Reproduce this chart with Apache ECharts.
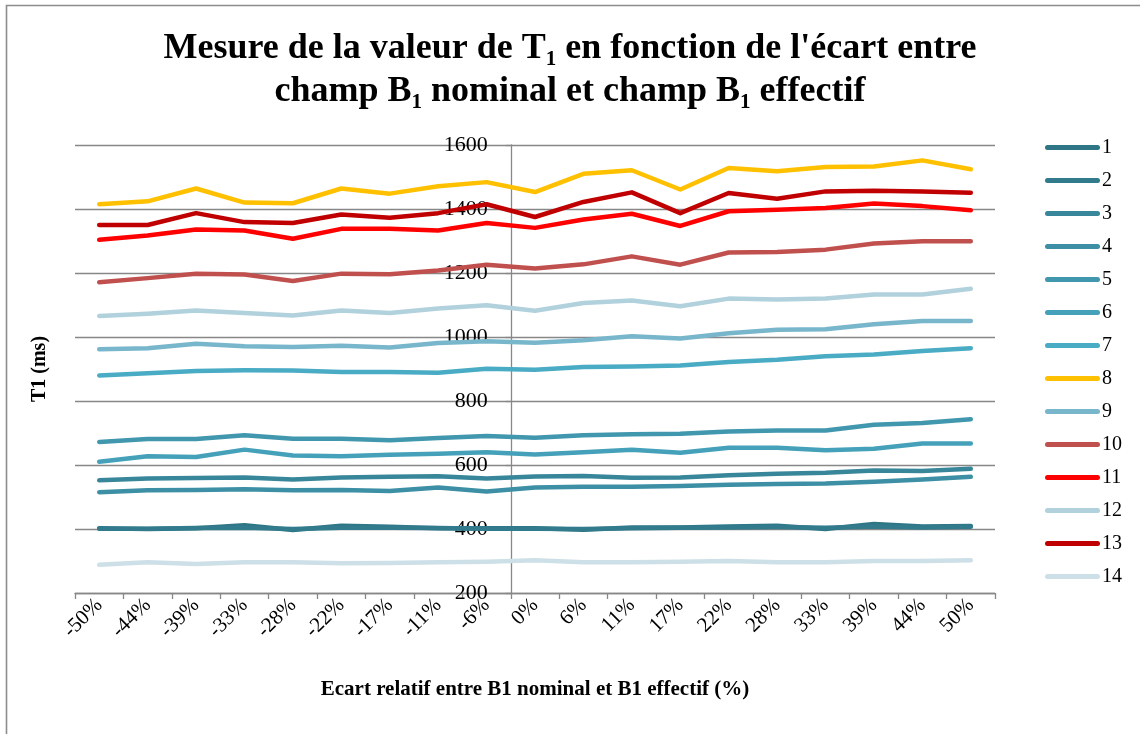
<!DOCTYPE html>
<html>
<head>
<meta charset="utf-8">
<script src="https://cdn.jsdelivr.net/npm/echarts@6/dist/echarts.min.js"></script>
<style>
  html, body { margin: 0; padding: 0; background: #fff; }
  #chart { width: 1140px; height: 734px; }
</style>
</head>
<body>
<div id="chart"></div>
<script>
// Relative deviation between nominal and effective B1 field (%)
const categories = ['-50%', '-44%', '-39%', '-33%', '-28%', '-22%', '-17%', '-11%', '-6%', '0%',
  '6%', '11%', '17%', '22%', '28%', '33%', '39%', '44%', '50%'];

// Measured T1 (ms) for each of the 14 samples
const t1_1  = [402, 400, 402, 412, 397, 410, 407, 402, 402, 402, 398, 405, 405, 408, 410, 400, 416, 408, 409];
const t1_2  = [401, 401, 403, 404, 400, 404, 404, 403, 401, 401, 400, 402, 404, 405, 406, 404, 408, 405, 407];
const t1_3  = [552, 558, 559, 561, 555, 561, 563, 565, 558, 564, 566, 560, 561, 568, 573, 576, 583, 581, 588];
const t1_4  = [515, 521, 522, 524, 521, 522, 519, 530, 517, 530, 532, 532, 534, 538, 541, 542, 548, 555, 563];
const t1_5  = [672, 681, 681, 693, 682, 682, 677, 684, 691, 685, 693, 696, 698, 705, 708, 708, 726, 731, 743];
const t1_6  = [610, 627, 625, 648, 630, 627, 632, 635, 640, 633, 640, 648, 638, 654, 654, 646, 651, 667, 667];
const t1_7  = [880, 887, 894, 896, 895, 891, 891, 888, 901, 898, 906, 908, 911, 922, 929, 940, 945, 956, 965];
const t1_8  = [1415, 1424, 1464, 1420, 1418, 1464, 1448, 1471, 1484, 1453, 1510, 1521, 1461, 1528, 1518, 1531, 1533, 1552, 1524];
const t1_9  = [962, 965, 979, 971, 969, 973, 967, 981, 987, 982, 990, 1002, 995, 1012, 1023, 1024, 1040, 1050, 1050];
const t1_10 = [1171, 1184, 1198, 1195, 1175, 1198, 1196, 1208, 1226, 1214, 1227, 1252, 1226, 1264, 1266, 1273, 1292, 1299, 1299];
const t1_11 = [1304, 1317, 1336, 1333, 1307, 1338, 1338, 1333, 1356, 1341, 1367, 1385, 1347, 1393, 1398, 1403, 1417, 1409, 1396];
const t1_12 = [1066, 1073, 1083, 1075, 1067, 1083, 1075, 1089, 1099, 1082, 1106, 1114, 1096, 1120, 1117, 1120, 1133, 1133, 1151];
const t1_13 = [1350, 1350, 1387, 1359, 1356, 1383, 1373, 1387, 1415, 1375, 1422, 1452, 1387, 1450, 1432, 1455, 1457, 1455, 1451];
const t1_14 = [288, 296, 291, 296, 296, 293, 294, 296, 298, 302, 296, 296, 298, 300, 296, 296, 300, 300, 302];

const seriesNames = ['1', '2', '3', '4', '5', '6', '7', '8', '9', '10', '11', '12', '13', '14'];
const seriesData = [t1_1, t1_2, t1_3, t1_4, t1_5, t1_6, t1_7, t1_8, t1_9, t1_10, t1_11, t1_12, t1_13, t1_14];
const seriesColors = ['#2E7586', '#327B8D', '#38869A', '#3C8FA4', '#4097AE', '#44A1B9', '#4AABC5',
  '#FFC000', '#78B6CC', '#C0504D', '#FF0000', '#B1D1DD', '#C00000', '#CDE0E7'];

const yTicks = { min: 200, max: 1600, interval: 200 };

const FONT = 'Liberation Serif';
const GRID = { left: 75, top: 145, width: 920, height: 448 };
// The vertical axis crosses the category axis at the start of the "0%" category
const crossIndex = categories.indexOf('0%');
const yAxisOffset = -GRID.width * crossIndex / categories.length;
const axisGray = '#878787';

// Capsule-shaped legend key (55 x 5 with rounded ends)
const legendKey = 'path://M2.5,0H52.5A2.5,2.5,0,0,1,52.5,5H2.5A2.5,2.5,0,0,1,2.5,0Z';

const chart = echarts.init(document.getElementById('chart'), null, { renderer: 'canvas' });

chart.setOption({
  animation: false,
  backgroundColor: '#fff',
  graphic: [{
    type: 'rect',
    silent: true,
    shape: { x: 6.5, y: 5.5, width: 1300, height: 900 },
    style: { fill: 'none', stroke: '#8C8C8C', lineWidth: 1.6 }
  }],
  title: {
    left: 'center',
    top: 22,
    padding: [5, 5, 5, 21],
    text: '{t|Mesure de la valeur de T}{s|1}{t| en fonction de l\'écart entre}\n{t|champ B}{s|1}{t| nominal et champ B}{s|1}{t| effectif}',
    textStyle: {
      rich: {
        t: { fontFamily: FONT, fontWeight: 'bold', fontSize: 36, lineHeight: 43, color: '#000' },
        s: { fontFamily: FONT, fontWeight: 'bold', fontSize: 21, lineHeight: 43, color: '#000', verticalAlign: 'bottom' }
      }
    }
  },
  legend: {
    orient: 'vertical',
    left: 1040,
    top: 126,
    icon: legendKey,
    itemWidth: 55,
    itemHeight: 5,
    itemGap: 0,
    data: seriesNames,
    textStyle: { fontFamily: FONT, fontSize: 20, lineHeight: 33, color: '#000', padding: [0, 0, 0, -3] }
  },
  grid: GRID,
  xAxis: {
    type: 'category',
    data: categories,
    boundaryGap: true,
    name: 'Ecart relatif entre B1 nominal et B1 effectif (%)',
    nameLocation: 'middle',
    nameGap: 86,
    nameTextStyle: { fontFamily: FONT, fontWeight: 'bold', fontSize: 21, color: '#000' },
    axisLine: { lineStyle: { color: axisGray, width: 1.3 } },
    axisTick: { show: true, length: 6, lineStyle: { color: axisGray, width: 1.3 } },
    axisLabel: {
      interval: 0,
      rotate: 45,
      margin: 9,
      fontFamily: FONT,
      fontSize: 21,
      color: '#000'
    },
    splitLine: { show: false }
  },
  yAxis: {
    type: 'value',
    min: yTicks.min,
    max: yTicks.max,
    interval: yTicks.interval,
    offset: yAxisOffset,
    name: 'T1 (ms)',
    nameLocation: 'middle',
    nameRotate: 90,
    nameGap: -yAxisOffset + 25,
    nameTextStyle: { fontFamily: FONT, fontWeight: 'bold', fontSize: 20, color: '#000' },
    axisLine: { show: true, lineStyle: { color: axisGray, width: 1.3 } },
    axisTick: { show: true, length: 5, lineStyle: { color: axisGray, width: 1.3 } },
    axisLabel: {
      margin: 23, fontFamily: FONT, fontSize: 22, color: '#000',
      formatter: (v) => String(v)
    },
    splitLine: { show: true, lineStyle: { color: axisGray, width: 1.3 } }
  },
  series: seriesNames.map((name, i) => ({
    name: name,
    type: 'line',
    data: seriesData[i],
    symbol: 'none',
    color: seriesColors[i],
    lineStyle: { width: 4.5, color: seriesColors[i], cap: 'round', join: 'round' }
  }))
});
</script>
</body>
</html>
